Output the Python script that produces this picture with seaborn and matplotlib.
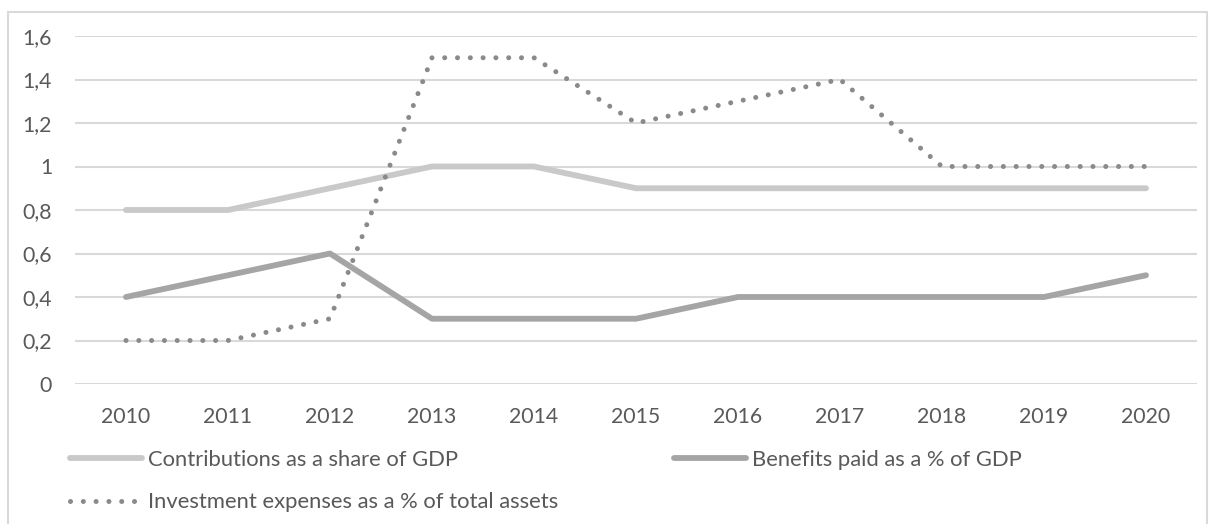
import seaborn as sns
import matplotlib.pyplot as plt
import matplotlib.patches as mpatches
import pandas as pd

years = [2010, 2011, 2012, 2013, 2014, 2015, 2016, 2017, 2018, 2019, 2020]
contributions = [0.8, 0.8, 0.9, 1.0, 1.0, 0.9, 0.9, 0.9, 0.9, 0.9, 0.9]
benefits = [0.4, 0.5, 0.6, 0.3, 0.3, 0.3, 0.4, 0.4, 0.4, 0.4, 0.5]
investment = [0.2, 0.2, 0.3, 1.5, 1.5, 1.2, 1.3, 1.4, 1.0, 1.0, 1.0]
series_names = ['Contributions as a share of GDP',
                'Benefits paid as a % of GDP',
                'Investment expenses as a % of total assets']
y_ticks = [0, 0.2, 0.4, 0.6, 0.8, 1.0, 1.2, 1.4, 1.6]
y_tick_labels = ['0', '0,2', '0,4', '0,6', '0,8', '1', '1,2', '1,4', '1,6']

df = pd.DataFrame({
  'year': years * 3,
  'value': contributions + benefits + investment,
  'series': [series_names[0]] * len(years) + [series_names[1]] * len(years) + [series_names[2]] * len(years),
})

sns.set_style("white")
plt.rcParams['font.family'] = ['Lato', 'DejaVu Sans']

text_color = '#595959'
grid_color = '#d9d9d9'
font_size = 15.3
legend_font_size = 15.8
colors = {series_names[0]: '#c9c9c9', series_names[1]: '#a5a5a5', series_names[2]: '#8a8a8a'}

fig = plt.figure(figsize=(12.15, 5.24), dpi=100)
ax = fig.add_axes([75 / 1215, 1 - 384 / 524, (1197 - 75) / 1215, (384 - 36) / 524])

handles = {}
for name in series_names:
  sub = df[df['series'] == name]
  sns.lineplot(data=sub, x='year', y='value', color=colors[name], ax=ax, legend=False)
  line = ax.lines[-1]
  if name == series_names[2]:
    line.set_linewidth(3.6)
    line.set_linestyle((0, (0.01, 2.55)))
    line.set_dash_capstyle('round')
  else:
    line.set_linewidth(4.2)
    line.set_solid_capstyle('round')
    line.set_solid_joinstyle('round')
  handles[name] = line

ax.set_xlim(2009.5, 2020.5)
ax.set_ylim(0, 1.6)
ax.set_xticks(years)
ax.set_xticklabels([str(y) for y in years])
ax.set_yticks(y_ticks)
ax.set_yticklabels(y_tick_labels)
ax.set_xlabel('')
ax.set_ylabel('')
for s in ax.spines.values():
  s.set_visible(False)
ax.yaxis.grid(True, color=grid_color, linewidth=1.5)
ax.xaxis.grid(False)
ax.set_axisbelow(True)
ax.tick_params(axis='y', length=0, pad=16.5, labelsize=font_size, labelcolor=text_color)
ax.tick_params(axis='x', length=0, pad=16.5, labelsize=font_size, labelcolor=text_color)

order = [series_names[0], series_names[2], series_names[1]]
fig.legend([handles[n] for n in order], order, ncol=2, loc='upper left',
           bbox_to_anchor=(70 / 1215, 1 - 450 / 524), frameon=False,
           fontsize=legend_font_size, labelcolor=text_color, handlelength=3.28,
           handletextpad=0.27, columnspacing=5.3, labelspacing=1.02,
           borderpad=0, borderaxespad=0)

fig.patches.append(mpatches.Rectangle((8 / 1215, -0.05), (1207 - 8) / 1215, 1.05 - 12 / 524,
                                      transform=fig.transFigure, fill=False,
                                      edgecolor=grid_color, linewidth=1.5))

plt.savefig('out.png', dpi=100)
